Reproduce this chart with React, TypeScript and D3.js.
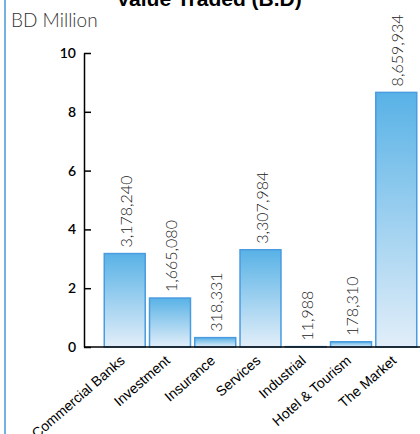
import React, { useEffect, useRef } from "react";
import * as d3 from "d3";

const categories = [
  "Commercial Banks",
  "Investment",
  "Insurance",
  "Services",
  "Industrial",
  "Hotel & Tourism",
  "The Market",
];
// BD, shown in millions on the axis
const valueTraded = [3178240, 1665080, 318331, 3307984, 11988, 178310, 8659934];
const yTicks = [0, 2, 4, 6, 8, 10];

const W = 420;
const H = 434;

const App: React.FC = () => {
  const ref = useRef<SVGSVGElement>(null);

  useEffect(() => {
    const svg = d3.select(ref.current);
    svg.selectAll("*").remove();

    const x = d3
      .scaleBand<string>()
      .domain(categories)
      .range([102, 419])
      .paddingInner(0.095)
      .paddingOuter(0.05);

    const y = d3.scaleLinear().domain([0, 10]).range([347, 53]);

    const defs = svg.append("defs");
    const grad = defs
      .append("linearGradient")
      .attr("id", "barGrad")
      .attr("x1", 0)
      .attr("y1", 0)
      .attr("x2", 0)
      .attr("y2", 1);
    grad.append("stop").attr("offset", "0%").attr("stop-color", "#58b2e6");
    grad.append("stop").attr("offset", "100%").attr("stop-color", "#e2eef9");

    // left frame line
    svg
      .append("line")
      .attr("x1", 5)
      .attr("x2", 5)
      .attr("y1", 0)
      .attr("y2", H)
      .attr("stroke", "#72b1e0")
      .attr("stroke-width", 2);

    svg
      .append("text")
      .attr("x", 209)
      .attr("y", 6)
      .attr("text-anchor", "middle")
      .style("font-family", "'Liberation Sans', Arial, sans-serif")
      .style("font-weight", "bold")
      .style("font-size", "21px")
      .text("Value Traded (B.D)");

    svg
      .append("text")
      .attr("x", 11)
      .attr("y", 27)
      .style("font-family", "Lato, sans-serif")
      .style("font-weight", 300)
      .style("font-size", "19px")
      .attr("fill", "#333")
      .text("BD Million");

    // bars
    svg
      .append("g")
      .selectAll("rect")
      .data(valueTraded)
      .join("rect")
      .attr("x", (_, i) => x(categories[i])!)
      .attr("width", x.bandwidth())
      .attr("y", (d) => y(d / 1e6))
      .attr("height", (d) => y(0) - y(d / 1e6))
      .attr("fill", "url(#barGrad)")
      .attr("stroke", "#4a9be0")
      .attr("stroke-width", 1.5);

    // value labels
    svg
      .append("g")
      .selectAll("text")
      .data(valueTraded)
      .join("text")
      .attr(
        "transform",
        (d, i) =>
          `translate(${x(categories[i])! + x.bandwidth() / 2 + 7},${y(d / 1e6) - 6}) rotate(-90)`
      )
      .style("font-family", "Lato, sans-serif")
      .style("font-weight", 300)
      .style("font-size", "16px")
      .attr("fill", "#222")
      .text((d) => d3.format(",")(d));

    // y axis
    const yAxis = svg
      .append("g")
      .attr("transform", "translate(84,0)")
      .call(
        d3
          .axisRight(y)
          .tickValues(yTicks)
          .tickSize(7)
          .tickSizeOuter(0)
          .tickFormat(d3.format("d"))
      );
    yAxis.select(".domain").attr("stroke", "#000").attr("stroke-width", 1.5);
    yAxis.selectAll(".tick line").attr("stroke", "#000").attr("stroke-width", 1.5);
    yAxis
      .selectAll(".tick text")
      .attr("x", -8)
      .attr("text-anchor", "end")
      .style("font-family", "Lato, sans-serif")
      .style("font-weight", 600)
      .style("font-size", "14px");

    // baseline
    svg
      .append("line")
      .attr("x1", 84)
      .attr("x2", W)
      .attr("y1", y(0))
      .attr("y2", y(0))
      .attr("stroke", "#000")
      .attr("stroke-width", 1.5);

    // category labels
    svg
      .append("g")
      .selectAll("text")
      .data(categories)
      .join("text")
      .attr(
        "transform",
        (c) => `translate(${x(c)! + x.bandwidth() / 2 + 1},${y(0) + 15}) rotate(-41)`
      )
      .attr("text-anchor", "end")
      .style("font-family", "'Liberation Sans', Arial, sans-serif")
      .style("font-size", "14px")
      .text((c) => c);
  }, []);

  return (
    <svg
      ref={ref}
      width={W}
      height={H}
      style={{ position: "absolute", left: 0, top: 0, background: "#fff" }}
    />
  );
};

export default App;
